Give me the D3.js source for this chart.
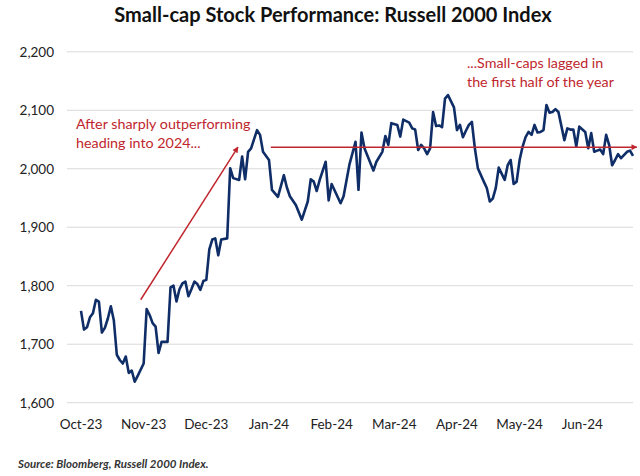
<!DOCTYPE html>
<html><head><meta charset="utf-8">
<script src="https://cdn.jsdelivr.net/npm/d3@7"></script>
<style>
html,body{margin:0;padding:0;background:#fff;}
svg{display:block;font-family:Lato,"Open Sans",sans-serif;}
</style></head>
<body>
<svg id="chart" width="640" height="476"></svg>
<script>
// ---- data ----
const dayIndex = [0,1,2,3,4,5,6,7,8,9,10,11,12,13,14,15,16,17,18,19,21,22,23,24,25,26,27,29,30,31,32,33,34,35,36,37,38,39,40,41,42,43,44,45,46,47,49,50,51,53,54,55,56,57,59,60,61,63,64,66,68,69,70,72,74,76,77,78,79,80,82,83,84,87,88,90,92,93,94,95,98,99,101,102,103,104,106,107,108,110,111,112,113,114,115,116,117,118,119,120,121,122,123,125,126,127,128,129,130,131,132,133,135,136,137,138,139,140,142,143,144,145,146,147,148,149,150,151,152,153,154,155,156,157,158,159,160,162,163,164,165,166,167,169,170,171,172,173,174,175,176,177,178,179,180,181,183,184,185];
const closeValue = [1757,1725,1729,1746,1753,1776,1773,1720,1728,1744,1765,1741,1682,1673,1667,1679,1651,1655,1636,1646,1667,1760,1750,1736,1730,1685,1704,1704,1797,1800,1773,1794,1804,1807,1782,1794,1807,1803,1793,1808,1810,1862,1879,1881,1852,1879,1881,2001,1984,1981,2021,1982,2029,2035,2066,2058,2029,2015,1964,1952,1989,1968,1953,1938,1913,1944,1982,1978,1962,1981,2012,1946,1974,1941,1953,2008,2046,1964,2062,2035,1997,2012,2029,2056,2041,2078,2075,2055,2084,2079,2069,2067,2032,2041,2035,2025,2035,2097,2073,2074,2071,2120,2126,2105,2066,2075,2054,2065,2075,2080,2035,2001,1978,1967,1944,1949,1967,2002,1981,2006,2015,1974,1978,2015,2038,2054,2063,2058,2075,2062,2063,2066,2109,2096,2097,2102,2097,2049,2069,2067,2067,2038,2072,2063,2035,2061,2029,2031,2033,2025,2058,2041,2006,2015,2025,2018,2029,2031,2022];
const monthLabels = ["Oct-23","Nov-23","Dec-23","Jan-24","Feb-24","Mar-24","Apr-24","May-24","Jun-24"];
const labelInterval = 21;           // trading days between month labels
const yTicks = [1600,1700,1800,1900,2000,2100,2200];
const annotationLevel = 2037;
const arrow1 = {fromDay: 20, fromValue: 1776, toDay: 52.6, toValue: annotationLevel};
const arrow2 = {fromDay: 63.6, toDay: 186.3};

const title = "Small-cap Stock Performance: Russell 2000 Index";
const note1 = ["After sharply outperforming", "heading into 2024..."];
const note2 = ["...Small-caps lagged in", "the first half of the year"];
const source = "Source: Bloomberg, Russell 2000 Index.";

// ---- drawing ----
const svg = d3.select("#chart");
const red = "#c0262d";
const navy = "#0f2d66";

const x = d3.scaleLinear().domain([0, 185]).range([81, 633]);
const y = d3.scaleLinear().domain([1600, 2200]).range([402.7, 51.8]);

svg.append("defs").append("marker")
  .attr("id","arr").attr("viewBox","0 0 10 10").attr("refX",9).attr("refY",5)
  .attr("markerWidth",6).attr("markerHeight",6).attr("orient","auto-start-reverse")
  .attr("markerUnits","userSpaceOnUse")
  .append("path").attr("d","M0,0L10,5L0,10z").attr("fill",red);

// title
svg.append("text").attr("x",333).attr("y",22).attr("text-anchor","middle")
  .attr("font-size",20).attr("font-weight","bold").attr("fill","#111").text(title);

// gridlines + y labels
const yAxis = svg.append("g");
yAxis.selectAll("line").data(yTicks).join("line")
  .attr("x1",67).attr("x2",633).attr("y1",d=>y(d)).attr("y2",d=>y(d))
  .attr("stroke","#d9d9d9").attr("stroke-width",1);
yAxis.selectAll("text").data(yTicks).join("text")
  .attr("x",54).attr("y",d=>y(d)+5).attr("text-anchor","end")
  .attr("font-size",13.5).attr("fill","#222").text(d=>d3.format(",")(d));

// x labels
svg.append("g").selectAll("text").data(monthLabels).join("text")
  .attr("x",(d,i)=>x(i*labelInterval)).attr("y",429).attr("text-anchor","middle")
  .attr("font-size",13.5).attr("fill","#222").text(d=>d);

// line
const pts = dayIndex.map((d,i)=>[d, closeValue[i]]);
svg.append("path").datum(pts)
  .attr("d", d3.line().x(d=>x(d[0])).y(d=>y(d[1])))
  .attr("fill","none").attr("stroke",navy).attr("stroke-width",2.6)
  .attr("stroke-linejoin","round");

// annotations
svg.append("line")
  .attr("x1",x(arrow1.fromDay)).attr("y1",y(arrow1.fromValue))
  .attr("x2",x(arrow1.toDay)).attr("y2",y(arrow1.toValue))
  .attr("stroke",red).attr("stroke-width",1.5).attr("marker-end","url(#arr)");
svg.append("line")
  .attr("x1",x(arrow2.fromDay)).attr("y1",y(annotationLevel))
  .attr("x2",x(arrow2.toDay)).attr("y2",y(annotationLevel))
  .attr("stroke",red).attr("stroke-width",1.5).attr("marker-end","url(#arr)");

svg.append("g").selectAll("text").data(note1).join("text")
  .attr("x",76).attr("y",(d,i)=>129+i*19).attr("font-size",14.3).attr("fill",red).text(d=>d);
svg.append("g").selectAll("text").data(note2).join("text")
  .attr("x",467).attr("y",(d,i)=>68+i*19).attr("font-size",14.3).attr("fill",red).text(d=>d);

// source
svg.append("text").attr("x",18).attr("y",468).attr("font-size",11.5)
  .attr("font-style","italic").attr("font-weight","bold").attr("fill","#333").text(source);
</script>
</body></html>
